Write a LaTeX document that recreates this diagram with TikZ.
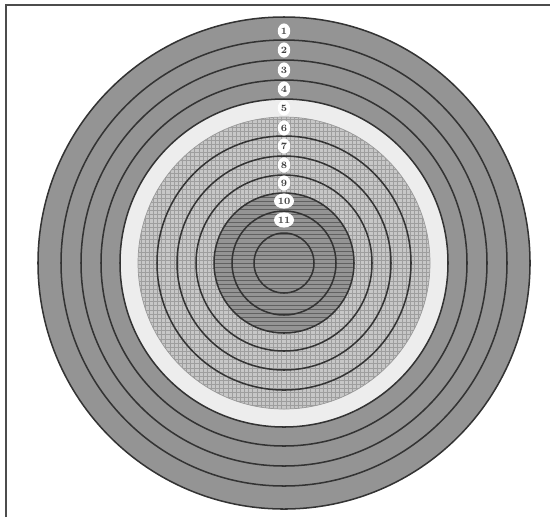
\documentclass[tikz,border=0pt]{standalone}
\usepackage{tikz}
\usetikzlibrary{patterns, shapes.geometric}

\begin{document}
\begin{tikzpicture}[x=0.02545cm, y=-0.02545cm,
      ringline/.style={draw=black!80, line width=1.1pt},
      num/.style={ellipse, fill=white, inner sep=0.6pt, minimum width=9pt, minimum height=11pt, font=\scriptsize\bfseries, text=black!75}]
      \useasboundingbox (0,0) rectangle (550,517);
      \coordinate (c) at (284,263);
      % zones
      \fill[black!42] (c) circle[radius=246];
      \fill[black!7] (c) circle[radius=164];
      \fill[black!22] (c) circle[radius=146];
      \fill[pattern=grid, pattern color=black!38] (c) circle[radius=146];
      \fill[black!42] (c) circle[radius=70];
      \fill[pattern=horizontal lines, pattern color=black!62] (c) circle[radius=70];
      % ring lines
      \foreach \r in {246,223,203,183,164,127,107,88,70,52,30}
        \draw[ringline] (c) circle[radius=\r];
      \draw[black!40, line width=0.5pt] (c) circle[radius=146];
      % ring numbers
      \foreach \n/\y in {1/31,2/50,3/70,4/89,5/108,6/128,7/146,8/165,9/183,10/201,11/220}
        \node[num] (l\n) at (284,\y) {\n};
      % frame
      \draw[black!70, line width=1.5pt] (6,517) -- (6,5) -- (550,5);
    \end{tikzpicture}
\end{document}
